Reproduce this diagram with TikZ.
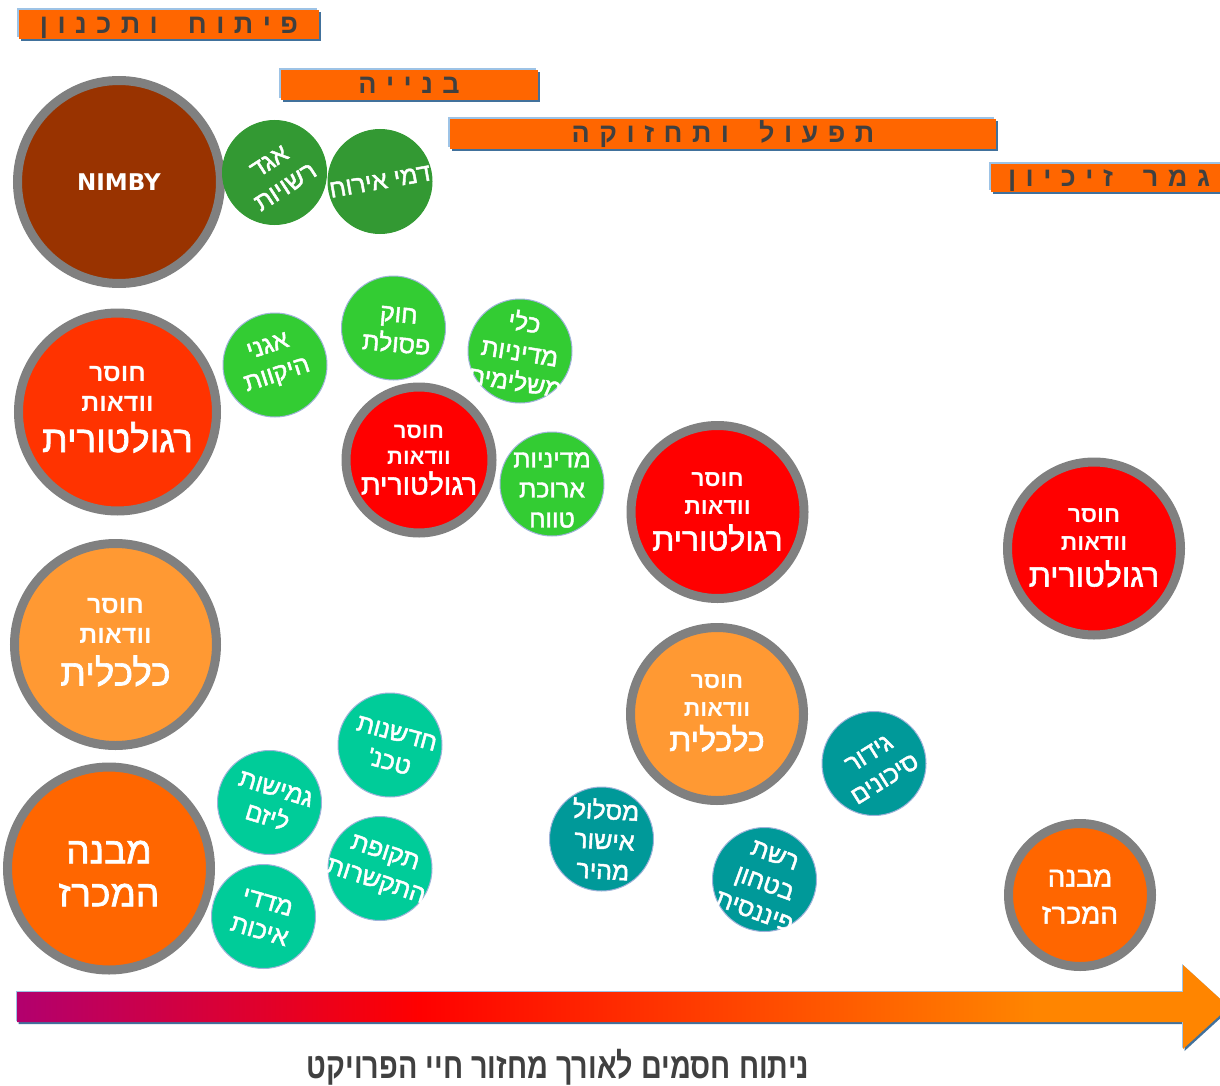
\documentclass[tikz,border=0pt]{standalone}
\usepackage{fontspec}
\usetikzlibrary{shadows}
\TeXXeTstate=1
\newfontfamily\hebfont[Script=Hebrew]{Liberation Sans}
\newfontfamily\hebmid[Script=Hebrew,FakeBold=1.8]{Liberation Sans}
\newfontfamily\titlefont[Script=Hebrew,FakeStretch=0.8]{Liberation Sans Bold}
\newfontfamily\latinfont{DejaVu Sans}
\newcommand\heb[1]{\beginR#1\endR}

\definecolor{nimbybrown}{HTML}{993300}
\definecolor{darkgreen}{HTML}{339933}
\definecolor{lightgreen}{HTML}{33CC33}
\definecolor{redorange}{HTML}{FF3300}
\definecolor{purered}{HTML}{FF0000}
\definecolor{lightorange}{HTML}{FF9933}
\definecolor{deeporange}{HTML}{FF6600}
\definecolor{tealfill}{HTML}{009999}
\definecolor{mint}{HTML}{00CC99}
\definecolor{ringgray}{HTML}{808080}
\definecolor{smallrim}{HTML}{9FB2D9}
\definecolor{phaseorange}{HTML}{FF6600}
\definecolor{phasedark}{HTML}{41719C}
\definecolor{phaseedge}{HTML}{9DC3E6}
\definecolor{labelgray}{HTML}{404040}
\definecolor{arrowpurple}{RGB}{178,0,110}
\definecolor{arroworange}{RGB}{255,133,0}

\pgfdeclarehorizontalshading{lifecycle}{100bp}{color(0bp)=(arrowpurple); color(25bp)=(arrowpurple);
    color(41.6bp)=(purered); color(67bp)=(arroworange); color(100bp)=(arroworange)}

\tikzstyle{phase} = [fill=phaseorange, inner sep=0pt, text=labelgray,
    text height=18pt, text depth=0pt,
    font={\hebfont\bfseries\fontsize{27}{27}\selectfont\spaceskip=9.5pt\relax},
    general shadow={fill=phasedark, shadow xshift=2pt, shadow yshift=-2pt},
    general shadow={fill=phaseedge, shadow xshift=-2pt, shadow yshift=2pt}]
\tikzstyle{lifearrow} = [shading=lifecycle,
    general shadow={fill=phasedark, shadow xshift=1.5pt, shadow yshift=-2pt},
    general shadow={fill=phaseedge, shadow xshift=-1pt, shadow yshift=1pt}]
\tikzstyle{bigring} = [circle, draw=ringgray, line width=9pt, inner sep=0pt]
\tikzstyle{ball} = [circle, draw=smallrim, line width=1pt, inner sep=0pt, minimum size=104pt]
\tikzstyle{balltext} = [text=white, align=center, inner sep=0pt,
    font=\hebmid\fontsize{25}{30}\selectfont]
\tikzstyle{nimbytext} = [text=white, inner sep=0pt, font=\latinfont\bfseries\fontsize{23}{23}\selectfont]
\tikzset{
  lineR/.style={text=white, inner sep=0pt, anchor=base, font=\hebmid\fontsize{#1}{#1}\selectfont},
  lineB/.style={text=white, inner sep=0pt, anchor=base, font=\hebfont\bfseries\fontsize{#1}{#1}\selectfont}
}

\begin{document}
\begin{tikzpicture}[x=1pt, y=-1pt]
\useasboundingbox (0,0) rectangle (1220,1086);
\clip (0,0) rectangle (1220,1086);

% project phases
\node[phase, minimum width=300pt, minimum height=29pt] (dev) at (169,24.5) {\heb{פ י ת ו ח\hspace{30pt}ו ת כ נ ו ן}};
\node[phase, minimum width=257pt, minimum height=30pt] (build) at (409,85) {\heb{ב נ י י ה}};
\node[phase, minimum width=546pt, minimum height=30pt] (ops) at (723,134) {\heb{ת פ ע ו ל\hspace{30pt}ו ת ח ז ו ק ה}};
\node[phase, minimum width=236pt, minimum height=28pt] (end) at (1109,178) {\heb{ג מ ר\hspace{30pt}ז י כ י ו ן}};

% left column
\node[bigring, fill=nimbybrown, minimum size=203pt] (nimby) at (119,182) {};
\node[nimbytext] (nimbyT) at (nimby.center) {NIMBY};

\node[bigring, fill=redorange, minimum size=198pt] (regA) at (117.5,412) {};
\node[lineB=25] (regA1) at ([yshift=31pt]regA.center) {\heb{חוסר}};
\node[lineB=25] (regA2) at ([yshift=1pt]regA.center) {\heb{וודאות}};
\node[lineR=37] (regA3) at ([yshift=-40pt]regA.center) {\heb{רגולטורית}};

\node[bigring, fill=lightorange, minimum size=202pt] (econA) at (115.5,644.5) {};
\node[lineB=25] (econA1) at ([yshift=31pt]econA.center) {\heb{חוסר}};
\node[lineB=25] (econA2) at ([yshift=1pt]econA.center) {\heb{וודאות}};
\node[lineR=37] (econA3) at ([yshift=-41pt]econA.center) {\heb{כלכלית}};

\node[bigring, fill=deeporange, minimum size=203pt] (mivnaA) at (109,868.5) {};
\node[balltext, font=\hebmid\fontsize{37}{43}\selectfont] (mivnaAT) at ([yshift=-5pt]mivnaA.center) {\heb{מבנה}\\\heb{המכרז}};

% green: building
\node[ball, fill=darkgreen, draw=darkgreen] (agad) at (274.5,172.5) {};
\node[balltext, rotate=33] (agadT) at ([xshift=3pt,yshift=-2pt]agad.center) {\heb{אגד}\\\heb{רשויות}};
\node[ball, fill=darkgreen, draw=darkgreen] (dmei) at (380,181.5) {};
\node[balltext, rotate=10] (dmeiT) at (dmei.center) {\heb{דמי אירוח}};

\node[ball, fill=lightgreen] (agan) at (275,365) {};
\node[balltext, rotate=18] (aganT) at ([xshift=-2pt,yshift=3pt]agan.center) {\heb{אגני}\\\heb{היקוות}};
\node[ball, fill=lightgreen] (hok) at (393.5,328) {};
\node[balltext, rotate=-5] (hokT) at ([xshift=4pt,yshift=-2pt]hok.center) {\heb{חוק}\\\heb{פסולת}};
\node[ball, fill=lightgreen] (kli) at (520,351) {};
\node[balltext, rotate=-9] (kliT) at (kli.center) {\heb{כלי}\\\heb{מדיניות}\\\heb{משלימים}};
\node[ball, fill=lightgreen] (mediniut) at (552,484) {};
\node[balltext] (mediniutT) at ([yshift=-6pt]mediniut.center) {\heb{מדיניות}\\\heb{ארוכת}\\\heb{טווח}};

\node[bigring, fill=purered, minimum size=146pt] (regB) at (419,460) {};
\node[lineB=22] (regB1) at ([yshift=22pt]regB.center) {\heb{חוסר}};
\node[lineB=22] (regB2) at ([yshift=-4pt]regB.center) {\heb{וודאות}};
\node[lineR=28.5] (regB3) at ([yshift=-34.5pt]regB.center) {\heb{רגולטורית}};

% mint: tender design
\node[ball, fill=mint] (hidush) at (390,745) {};
\node[balltext, rotate=-15] (hidushT) at ([xshift=3pt,yshift=-3pt]hidush.center) {\heb{חדשנות}\\\heb{טכנ'}};
\node[ball, fill=mint] (gmishut) at (269.5,802.5) {};
\node[balltext, rotate=-17] (gmishutT) at ([xshift=2pt,yshift=-1pt]gmishut.center) {\heb{גמישות}\\\heb{ליזם}};
\node[ball, fill=mint] (tkufa) at (380,868.5) {};
\node[balltext, rotate=-18] (tkufaT) at (tkufa.center) {\heb{תקופת}\\\heb{התקשרות}};
\node[ball, fill=mint] (madad) at (263.5,916.5) {};
\node[balltext, rotate=-16] (madadT) at (madad.center) {\heb{מדדי}\\\heb{איכות}};

% operation
\node[bigring, fill=purered, minimum size=173pt] (regC) at (717.5,512) {};
\node[lineB=23] (regC1) at ([yshift=26pt]regC.center) {\heb{חוסר}};
\node[lineB=23] (regC2) at ([yshift=-2pt]regC.center) {\heb{וודאות}};
\node[lineR=32] (regC3) at ([yshift=-38.5pt]regC.center) {\heb{רגולטורית}};

\node[bigring, fill=lightorange, minimum size=173pt] (econB) at (717,714) {};
\node[lineB=23] (econB1) at ([yshift=26pt]econB.center) {\heb{חוסר}};
\node[lineB=23] (econB2) at ([yshift=-2pt]econB.center) {\heb{וודאות}};
\node[lineR=32] (econB3) at ([yshift=-37pt]econB.center) {\heb{כלכלית}};

\node[ball, fill=tealfill] (gidur) at (874,763.5) {};
\node[balltext, rotate=32] (gidurT) at ([xshift=3pt,yshift=-3pt]gidur.center) {\heb{גידור}\\\heb{סיכונים}};
\node[ball, fill=tealfill] (maslul) at (601.5,839) {};
\node[balltext, rotate=-3] (maslulT) at ([xshift=3pt]maslul.center) {\heb{מסלול}\\\heb{אישור}\\\heb{מהיר}};
\node[ball, fill=tealfill] (reshet) at (764.5,879.5) {};
\node[balltext, rotate=-20] (reshetT) at ([yshift=-4pt]reshet.center) {\heb{רשת}\\\heb{בטחון}\\\heb{פיננסית}};

% end of concession
\node[bigring, fill=purered, minimum size=173pt] (regD) at (1094,548.5) {};
\node[lineB=23] (regD1) at ([yshift=26pt]regD.center) {\heb{חוסר}};
\node[lineB=23] (regD2) at ([yshift=-2pt]regD.center) {\heb{וודאות}};
\node[lineR=32] (regD3) at ([yshift=-38pt]regD.center) {\heb{רגולטורית}};

\node[bigring, fill=deeporange, minimum size=143pt] (mivnaB) at (1080,895) {};
\node[balltext, font=\hebmid\fontsize{28}{37}\selectfont] (mivnaBT) at ([yshift=-1.5pt]mivnaB.center) {\heb{מבנה}\\\heb{המכרז}};

% life cycle arrow
\shade[lifearrow] (17,992) -- (1183,992) -- (1183,965) -- (1229,1007) -- (1183,1049) -- (1183,1022) -- (17,1022) -- cycle;
\node[anchor=base, inner sep=0pt, text=labelgray, font=\titlefont\fontsize{36}{36}\selectfont] (title) at (558,1078) {\heb{ניתוח חסמים לאורך מחזור חיי הפרויקט}};
\end{tikzpicture}
\end{document}
